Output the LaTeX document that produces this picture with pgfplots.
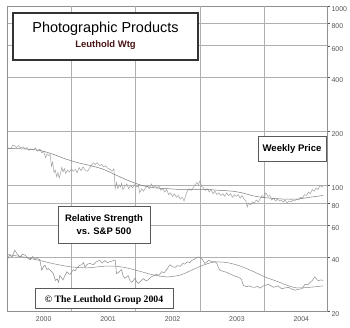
\documentclass[border=0pt]{standalone}
\usepackage{fontspec}
\setmainfont{Liberation Sans}
\newfontfamily\timesfont{Liberation Serif}
\usepackage{pgfplots}
\pgfplotsset{compat=1.18}
\definecolor{gridc}{HTML}{B0B0B0}
\definecolor{axc}{HTML}{909090}
\definecolor{tickc}{HTML}{555555}
\definecolor{pricec}{HTML}{A0A0A0}
\definecolor{mac}{HTML}{7A7A7A}
\definecolor{rsc}{HTML}{8A8A8A}
\definecolor{maroon}{HTML}{4A1414}
\begin{document}
\begin{tikzpicture}[x=1bp,y=1bp]
\path[use as bounding box] (0,0) rectangle (350,328);
\begin{axis}[at={(7bp,17bp)}, anchor=south west, scale only axis,
  width=320bp, height=305bp,
  xmin=0, xmax=4.969, ymode=log, ymin=20, ymax=1000,
  axis line style={draw=axc, line width=0.6bp},
  xtick={0.57,1.57,2.57,3.57,4.57},
  xticklabels={2000,2001,2002,2003,2004},
  xtick pos=bottom, major x tick style={draw=none},
  extra x ticks={1,2,3,4}, extra x tick labels={},
  extra x tick style={grid=major, tick style={draw=none}},
  ytick={20,40,60,80,100,200,400,600,800,1000},
  yticklabels={20,40,60,80,100,200,400,600,800,1000},
  ytick pos=right, yticklabel pos=right, yminorticks=false, xminorticks=false,
  ymajorgrids,
  grid style={draw=gridc, line width=0.7bp},
  major y tick style={draw=tickc, line width=0.5bp},
  tick align=outside, major tick length=3bp,
  /pgf/number format/assume math mode=true,
  yticklabel style={font=\fontsize{7}{8}\selectfont, text=tickc, anchor=west, yshift=-3bp, xshift=-2bp},
  xticklabel style={font=\fontsize{7}{8}\selectfont, text=tickc, yshift=0.5bp},
  clip=true,
]
% Weekly price
\addplot[pricec, line width=0.5bp, no markers] coordinates {
(0.00,158) (0.03,162) (0.06,160) (0.09,168) (0.12,166) (0.15,163) (0.18,167) (0.21,162)
(0.25,164) (0.28,160) (0.31,163) (0.34,157) (0.37,160) (0.41,158) (0.44,162) (0.47,155)
(0.51,160) (0.54,152) (0.57,155) (0.60,143) (0.62,150) (0.65,147) (0.67,149) (0.69,128)
(0.71,135) (0.73,118) (0.75,122) (0.77,112) (0.79,118) (0.81,110) (0.83,116) (0.85,126)
(0.87,119) (0.89,124) (0.91,117) (0.94,122) (0.97,119) (1.00,124) (1.03,120) (1.06,123)
(1.09,118) (1.12,126) (1.15,121) (1.18,127) (1.21,122) (1.25,120) (1.28,125) (1.31,129)
(1.34,134) (1.37,131) (1.40,134) (1.44,129) (1.47,131) (1.50,127) (1.53,129) (1.56,125)
(1.60,123) (1.63,120) (1.66,124) (1.68,96) (1.70,104) (1.72,96) (1.74,101) (1.76,98)
(1.78,103) (1.80,95) (1.83,99) (1.86,102) (1.89,96) (1.92,100) (1.95,97) (1.98,101)
(2.01,98) (2.04,100) (2.06,91) (2.09,96) (2.12,93) (2.15,97) (2.18,99) (2.21,96)
(2.24,102) (2.27,98) (2.30,100) (2.33,97) (2.36,99) (2.39,94) (2.42,96) (2.45,92)
(2.48,95) (2.51,89) (2.54,91) (2.57,87) (2.60,90) (2.63,86) (2.66,88) (2.69,84)
(2.72,86) (2.75,82) (2.77,87) (2.80,93) (2.83,96) (2.86,94) (2.89,97) (2.92,101)
(2.95,104) (2.97,101) (3.00,107) (3.02,99) (3.05,97) (3.08,94) (3.11,96) (3.14,92)
(3.17,95) (3.20,90) (3.23,93) (3.26,89) (3.29,91) (3.32,88) (3.35,90) (3.38,87)
(3.41,91) (3.44,88) (3.47,90) (3.50,86) (3.53,89) (3.56,87) (3.59,89) (3.62,85)
(3.65,88) (3.68,84) (3.71,82) (3.73,76) (3.75,80) (3.78,78) (3.81,81) (3.84,80)
(3.87,83) (3.90,81) (3.93,84) (3.96,88) (3.99,86) (4.02,91) (4.05,87) (4.08,88)
(4.11,83) (4.14,85) (4.17,82) (4.20,84) (4.23,82) (4.26,83) (4.29,81) (4.32,83)
(4.35,80) (4.38,82) (4.41,81) (4.44,83) (4.47,82) (4.50,84) (4.53,83) (4.56,86)
(4.59,85) (4.62,89) (4.65,88) (4.68,92) (4.71,90) (4.74,95) (4.77,93) (4.80,97)
(4.83,95) (4.86,100) (4.89,98) (4.91,100)
};
% Price moving average
\addplot[mac, line width=0.5bp, no markers, smooth] coordinates {
(0.00,161) (0.25,160) (0.50,157) (0.70,150) (0.90,141) (1.10,134) (1.30,129) (1.50,123)
(1.70,114) (1.90,106) (2.10,100) (2.30,97) (2.50,96) (2.70,95) (2.90,95) (3.10,95)
(3.30,94) (3.50,93) (3.65,91) (3.80,88) (3.95,86) (4.10,85) (4.30,84) (4.50,84)
(4.70,86) (4.91,88)
};
% Relative strength vs S&P 500
\addplot[rsc, line width=0.5bp, no markers] coordinates {
(0.00,38.3) (0.04,41) (0.08,40) (0.12,43.6) (0.16,41.5) (0.20,40) (0.24,41.5) (0.28,41)
(0.32,39.5) (0.36,38.5) (0.40,40.2) (0.43,38.8) (0.46,39.7) (0.51,38.5) (0.54,33.7)
(0.57,35.5) (0.59,36) (0.62,34) (0.64,34.5) (0.68,33.5) (0.72,32.3) (0.75,29.6)
(0.78,30.2) (0.80,28.9) (0.82,31.5) (0.85,30.5) (0.87,29.8) (0.90,31.5) (0.93,33.1)
(0.96,32.2) (0.98,32) (1.03,34) (1.06,33.5) (1.08,34.5) (1.12,35.8) (1.16,36.2)
(1.19,37.2) (1.21,35) (1.25,36.5) (1.29,36.8) (1.34,36.2) (1.38,37.5) (1.44,38.3)
(1.48,37) (1.52,38.2) (1.56,37.2) (1.60,37.7) (1.64,38) (1.68,38.5) (1.70,32.3)
(1.74,33) (1.78,34) (1.80,31.5) (1.83,30.4) (1.88,31.5) (1.91,29.5) (1.94,28.9)
(1.99,30.5) (2.01,29.2) (2.04,28.5) (2.08,29.5) (2.12,30.3) (2.16,29.4) (2.19,29.8)
(2.23,30.8) (2.27,31.4) (2.32,32) (2.36,31.6) (2.40,33.1) (2.44,32.7) (2.48,34)
(2.53,36.2) (2.57,35.3) (2.61,35) (2.65,35.8) (2.69,35.5) (2.73,36.8) (2.76,36.5)
(2.80,37.6) (2.84,37.2) (2.87,38.3) (2.91,38.8) (2.94,39.5) (2.97,40) (3.00,39.6)
(3.02,39.3) (3.05,38) (3.07,36.8) (3.10,37.5) (3.13,38.3) (3.17,37.8) (3.20,37.5)
(3.23,37.8) (3.26,36.8) (3.28,35) (3.31,33.7) (3.35,33.3) (3.39,33) (3.42,32.8)
(3.44,32.3) (3.48,32) (3.51,31.6) (3.55,31.2) (3.59,30.9) (3.62,30.4) (3.64,30)
(3.67,27.8) (3.70,27.5) (3.72,27.3) (3.76,27.6) (3.80,27.2) (3.85,27.1) (3.89,27.4)
(3.93,26.8) (3.97,27.5) (4.01,27.8) (4.06,28.2) (4.10,27.6) (4.14,27.1) (4.18,27.4)
(4.21,27.6) (4.24,27.0) (4.27,26.6) (4.32,26.9) (4.37,27.1) (4.42,26.5) (4.47,26.1)
(4.52,26.4) (4.58,26.6) (4.63,28.2) (4.67,28.0) (4.70,28.7) (4.74,29.6) (4.78,31)
(4.81,30.0) (4.83,29.5) (4.87,29.8) (4.91,29.6)
};
% RS moving average
\addplot[rsc, line width=0.5bp, no markers, smooth] coordinates {
(0.00,41.3) (0.25,40) (0.50,38.3) (0.75,36.5) (1.00,35.2) (1.25,34.8) (1.50,35.5)
(1.70,35.5) (1.90,34.5) (2.10,33) (2.30,31.6) (2.50,31) (2.70,31.8) (2.90,34.2)
(3.05,36) (3.20,37.4) (3.40,37.3) (3.60,35.8) (3.80,33.5) (4.00,31) (4.20,29.2)
(4.35,27.8) (4.50,26.9) (4.70,27.1) (4.91,27.6)
};
\end{axis}
% Title box
\draw[draw=black!80, line width=1.6bp, fill=white] (13,268) rectangle (198,315);
\node[anchor=base, font=\fontsize{14.5}{16}\selectfont] at (105.5,296) {Photographic Products};
\node[anchor=base, font=\bfseries\fontsize{9.5}{11}\selectfont, text=maroon] at (105.5,281) {Leuthold Wtg};
% Weekly price box
\draw[draw=black!65, line width=0.7bp, fill=white] (258,167) rectangle (326,192);
\node[anchor=base, font=\bfseries\fontsize{9.6}{11}\selectfont] at (292,176.3) {Weekly Price};
% Relative strength box
\draw[draw=black!65, line width=0.7bp, fill=white] (58,85) rectangle (150,122);
\node[anchor=base, font=\bfseries\fontsize{9.5}{11}\selectfont] at (104,107) {Relative Strength};
\node[anchor=base, font=\bfseries\fontsize{9.5}{11}\selectfont] at (104,93.5) {vs. S\&P 500};
% Copyright box
\draw[draw=black!65, line width=0.7bp, fill=white] (35,20) rectangle (173,40);
\node[anchor=base, font=\timesfont\bfseries\fontsize{9.8}{11}\selectfont] at (104,25.3) {\textcopyright{} The Leuthold Group 2004};
\end{tikzpicture}
\end{document}
